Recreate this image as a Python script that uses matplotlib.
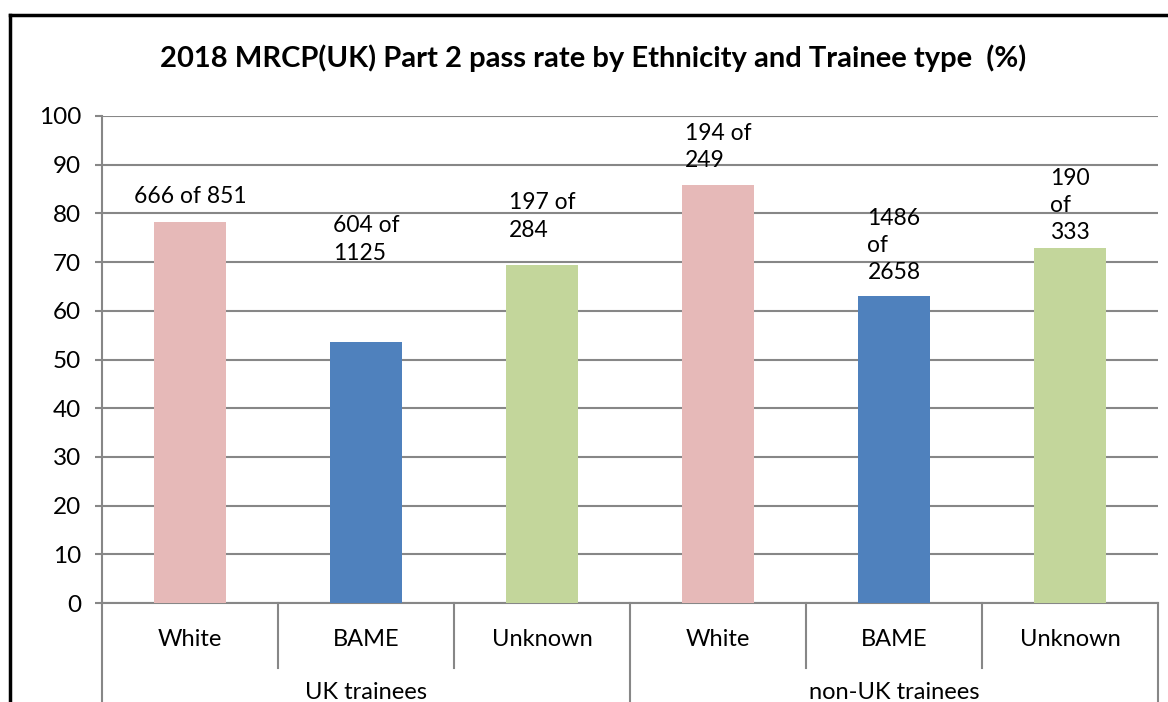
import numpy as np
import matplotlib
matplotlib.use("Agg")
import matplotlib.pyplot as plt
from matplotlib.lines import Line2D

plt.rcParams['font.family'] = ['Lato', 'DejaVu Sans']

# data
ethnicity = ['White', 'BAME', 'Unknown', 'White', 'BAME', 'Unknown']
groups = ['UK trainees', 'non-UK trainees']
pass_rate = [78.2, 53.6, 69.4, 85.8, 63.0, 72.9]
labels = ['666 of 851', '604 of\n1125', '197 of\n284',
          '194 of\n249', '1486\nof\n2658', '190\nof\n333']
colors = ['#E6B9B8', '#4F81BD', '#C3D69B', '#E6B9B8', '#4F81BD', '#C3D69B']
# offset of each label centre above its bar (points)
label_off = [18.7, 73.8, 34.9, 27.4, 36.7, 30.6]

grid_col = '#878787'

fig = plt.figure(figsize=(11.68, 7.02), dpi=100)
ax = fig.add_axes([102 / 1168, 1 - 603 / 702, 1056 / 1168, 487 / 702])

x = np.arange(len(pass_rate))
ax.bar(x, pass_rate, width=0.41, color=colors, zorder=3)

for xi, v, lab, off in zip(x, pass_rate, labels, label_off):
    ax.annotate(lab, (xi, v), xytext=(0, off), textcoords='offset points',
                ha='center', va='center', multialignment='left',
                fontsize=16.5, linespacing=1.36)

ax.set_xlim(-0.5, len(x) - 0.5)
ax.set_ylim(0, 100)
ax.set_yticks(range(0, 101, 10))
ax.yaxis.grid(True, color=grid_col, lw=1.5, zorder=0)
ax.tick_params(axis='y', labelsize=17.5, length=5, width=1.5, color=grid_col, pad=10)
ax.set_xticks([])
for s in ['top', 'right']:
    ax.spines[s].set_visible(False)
for s in ['left', 'bottom']:
    ax.spines[s].set_color(grid_col)
    ax.spines[s].set_linewidth(1.5)

# two-level category axis
tr = ax.get_xaxis_transform()
for b in np.arange(0.5, len(x) - 1, 1):
    if b == 2.5:
        continue
    ax.add_line(Line2D([b, b], [0, -0.1335], transform=tr, color=grid_col,
                       lw=1.5, clip_on=False))
for b in [-0.5, 2.5, len(x) - 0.5]:
    ax.add_line(Line2D([b, b], [0, -0.3], transform=tr, color=grid_col,
                       lw=1.5, clip_on=False))
for xi, name in zip(x, ethnicity):
    ax.text(xi, -0.074, name, transform=tr, ha='center', va='center', fontsize=17)
for gi, g in enumerate(groups):
    ax.text(gi * 3 + 1, -0.183, g, transform=tr, ha='center', va='center', fontsize=17)

fig.suptitle('2018 MRCP(UK) Part 2 pass rate by Ethnicity and Trainee type  (%)',
             x=593 / 1168, y=1 - 58 / 702, va='center', fontsize=21, fontweight='bold')

# outer chart border (cropped at right and bottom)
fig.add_artist(Line2D([9.5 / 1168, 1], [1 - 14.5 / 702, 1 - 14.5 / 702],
                      transform=fig.transFigure, color='black', lw=2.5))
fig.add_artist(Line2D([9.5 / 1168, 9.5 / 1168], [0, 1 - 14.5 / 702],
                      transform=fig.transFigure, color='black', lw=2.5))

fig.savefig('out.png', dpi=100)
